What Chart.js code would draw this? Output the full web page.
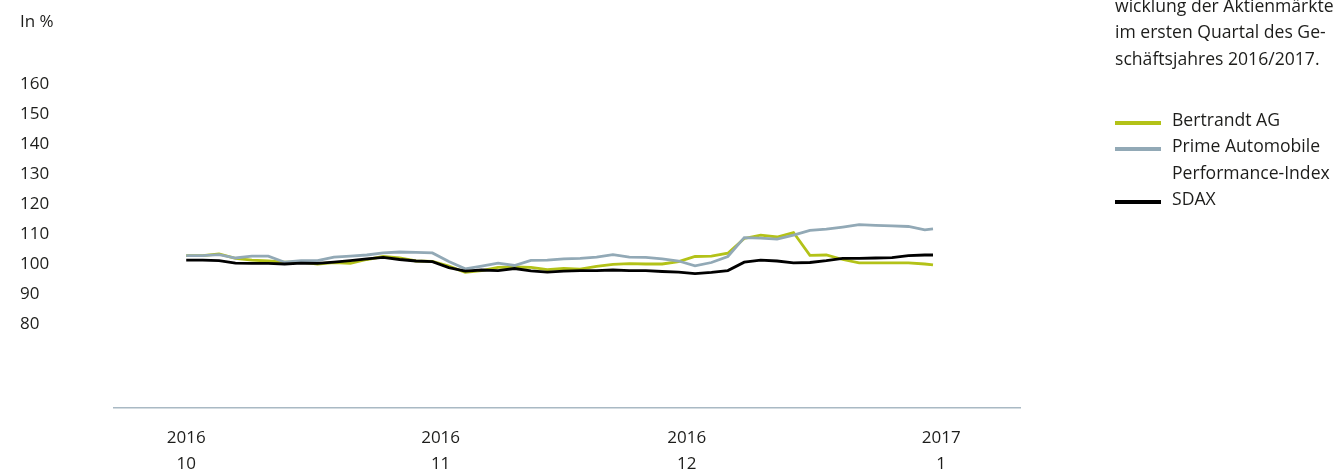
<!DOCTYPE html>
<html lang="de">
<head>
<meta charset="utf-8">
<script src="https://cdn.jsdelivr.net/npm/chart.js@4.4.0/dist/chart.umd.min.js"></script>
<style>
    html, body { margin: 0; padding: 0; background: #fff; overflow: hidden; }
    #wrap { position: relative; width: 1337px; height: 475px; }
    #intro {
        position: absolute; left: 1115px; top: -8px;
        font: 17.6px "Open Sans"; line-height: 26.4px; color: #1d1d1b; white-space: nowrap;
    }
    #legend {
        position: absolute; left: 1115px; top: 106px;
        font: 17.6px "Open Sans"; line-height: 26.4px; color: #1d1d1b; white-space: nowrap;
    }
    #legend .item { display: flex; align-items: flex-start; }
    #legend .swatch { width: 46px; height: 3.6px; margin: 15px 11px 0 0; flex: none; }
    #legend .noswatch { width: 57px; flex: none; }
</style>
</head>
<body>
<div id="wrap">
    <canvas id="kurs" width="1337" height="475"></canvas>
    <div id="intro">wicklung der Aktienmärkte<br>im ersten Quartal des Ge-<br>schäftsjahres 2016/2017.</div>
    <div id="legend"></div>
</div>
<script>
// Tage ab 1.10.2016
const days = [0, 2, 4, 6, 8, 10, 12, 14, 16, 18, 20, 22, 24, 26, 28, 30, 32, 34, 36, 38, 40, 42, 44, 46,
    48, 50, 52, 54, 56, 58, 60, 62, 64, 66, 68, 70, 72, 74, 76, 78, 80, 82, 84, 86, 88, 90, 91]

const bertrandt = [102.8, 102.8, 103.4, 101.9, 101.3, 101.0, 100.6, 100.6, 100.0, 100.5, 100.2, 101.5,
    102.5, 102.0, 101.0, 100.9, 99.3, 97.2, 97.8, 98.9, 99.0, 98.9, 98.1, 98.5, 98.3, 99.2, 99.9, 100.1,
    100.0, 100.0, 100.8, 102.5, 102.6, 103.6, 108.5, 109.6, 109.0, 110.5, 102.9, 103.0, 101.5, 100.4,
    100.4, 100.4, 100.4, 100.0, 99.7]

const prime = [102.8, 102.8, 103.1, 102.0, 102.6, 102.6, 100.6, 101.1, 101.1, 102.3, 102.6, 103.0,
    103.7, 104.0, 103.9, 103.7, 100.8, 98.4, 99.3, 100.3, 99.5, 101.2, 101.3, 101.7, 101.9, 102.3, 103.1,
    102.3, 102.2, 101.7, 101.0, 99.4, 100.5, 102.5, 108.8, 108.6, 108.3, 109.6, 111.2, 111.6, 112.3,
    113.1, 112.9, 112.7, 112.5, 111.4, 111.7]

const sdax = [101.3, 101.3, 101.1, 100.3, 100.2, 100.2, 100.0, 100.3, 100.2, 100.6, 101.1, 101.7,
    102.2, 101.5, 101.0, 100.8, 98.8, 97.6, 98.0, 97.8, 98.5, 97.7, 97.3, 97.6, 97.8, 97.8, 98.0, 97.8,
    97.8, 97.5, 97.3, 96.8, 97.2, 97.8, 100.6, 101.3, 101.0, 100.4, 100.5, 101.1, 101.9, 101.9, 102.0,
    102.1, 102.8, 103.0, 103.0]

const seriesNames = ["Bertrandt AG", "Prime Automobile\nPerformance-Index", "SDAX"]
const seriesColors = ["#b3c218", "#92a9b6", "#000000"]

const monthTicks = [0, 31, 61, 92]
const monthLabels = [["2016", "10"], ["2016", "11"], ["2016", "12"], ["2017", "1"]]
const yTicks = [80, 90, 100, 110, 120, 130, 140, 150, 160]

const toPoints = vals => vals.map((v, i) => ({x: days[i], y: v}))

const tickFont = {family: "Open Sans", size: 17}

const chart = new Chart(document.querySelector("#kurs"), {
    type: "line",
    data: {
        datasets: [bertrandt, prime, sdax].map((vals, i) => ({
            label: seriesNames[i],
            data: toPoints(vals),
            borderColor: seriesColors[i],
            backgroundColor: seriesColors[i],
            borderWidth: 2.8,
            pointRadius: 0,
            tension: 0
        })).reverse()
    },
    options: {
        responsive: false,
        animation: false,
        layout: {padding: {left: 20, right: 317, top: 0, bottom: 0}},
        plugins: {
            legend: {display: false},
            tooltip: {enabled: false},
            title: {
                display: true,
                text: "In %",
                align: "start",
                color: "#1d1d1b",
                font: {family: "Open Sans", size: 17, weight: "normal"},
                padding: {top: 12, bottom: 21.6}
            }
        },
        scales: {
            x: {
                type: "linear",
                min: -8.8,
                max: 101.6,
                grid: {display: false, drawTicks: false},
                border: {display: true, color: "#a9b9c4", width: 1.5},
                afterBuildTicks: axis => { axis.ticks = monthTicks.map(v => ({value: v})) },
                afterFit: axis => { axis.height = 67 },
                ticks: {
                    color: "#1d1d1b",
                    font: {...tickFont, lineHeight: 1.53},
                    padding: 17,
                    maxRotation: 0,
                    autoSkip: false,
                    callback: v => monthLabels[monthTicks.indexOf(v)]
                }
            },
            y: {
                min: 52,
                max: 170,
                grid: {display: false},
                border: {display: false},
                afterBuildTicks: axis => { axis.ticks = yTicks.map(v => ({value: v})) },
                afterFit: axis => { axis.width = 94 },
                ticks: {
                    color: "#1d1d1b",
                    font: tickFont,
                    crossAlign: "far",
                    autoSkip: false
                }
            }
        }
    }
})

// Legende rechts
const legend = document.querySelector("#legend")
seriesNames.forEach((name, i) => {
    name.split("\n").forEach((line, j) => {
        const row = document.createElement("div")
        row.className = "item"
        const sw = document.createElement("span")
        if (j === 0) {
            sw.className = "swatch"
            sw.style.background = seriesColors[i]
        } else {
            sw.className = "noswatch"
        }
        row.appendChild(sw)
        const txt = document.createElement("span")
        txt.textContent = line
        row.appendChild(txt)
        legend.appendChild(row)
    })
})
</script>
</body>
</html>
